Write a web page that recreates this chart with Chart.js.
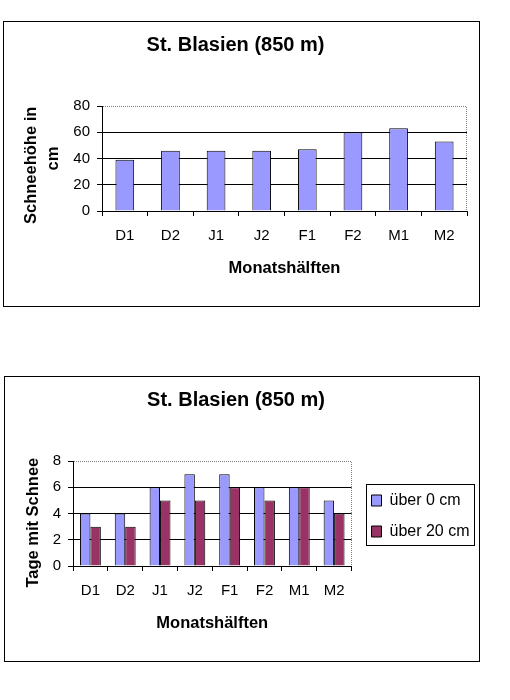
<!DOCTYPE html>
<html>
<head>
<meta charset="utf-8">
<script src="https://cdn.jsdelivr.net/npm/chart.js@4.4.1/dist/chart.umd.min.js"></script>
<style>
  body { margin: 0; background: #fff; }
  .box { position: absolute; border: 1px solid #000; box-sizing: border-box; background: #fff; }
  .box canvas { display: block; }
</style>
</head>
<body>
<div class="box" style="left:3px; top:21px; width:477px; height:286px;">
  <canvas id="chartHoehe" width="475" height="284"></canvas>
</div>
<div class="box" style="left:4px; top:376px; width:476px; height:286px;">
  <canvas id="chartTage" width="474" height="284"></canvas>
</div>
<script>
// Daten
const monatshaelften = ["D1", "D2", "J1", "J2", "F1", "F2", "M1", "M2"];
const schneehoehe = [39, 46, 46, 46, 47, 60, 63, 53];
const tageUeber0 = [4, 4, 6, 7, 7, 6, 6, 5];
const tageUeber20 = [3, 3, 5, 5, 6, 5, 6, 4];
const titel = "St. Blasien (850 m)";

const schrift = "'Liberation Sans', Arial, sans-serif";
Chart.defaults.font.family = schrift;
Chart.defaults.color = "#000";

// grauer gepunkteter Rahmen der Zeichnungsfläche (oben + rechts)
const plotRahmen = {
    id: "plotRahmen",
    afterDatasetsDraw(chart) {
        const { ctx, chartArea: a } = chart;
        const top = Math.round(a.top) + 0.5;
        const right = Math.round(a.right) - 0.5;
        ctx.save();
        ctx.strokeStyle = "#808080";
        ctx.lineWidth = 1;
        ctx.setLineDash([1, 1]);
        ctx.beginPath();
        ctx.moveTo(Math.round(a.left) + 1, top);
        ctx.lineTo(right, top);
        ctx.lineTo(right, Math.round(a.bottom));
        ctx.stroke();
        ctx.restore();
    }
};

// Legende etwas nach rechts/oben rücken, wie im Original
const legendeVerschieben = {
    id: "legendeVerschieben",
    afterLayout(chart) {
        const lg = chart.legend;
        if (!lg) return;
        lg.left += 5; lg.right += 5;
        lg.top -= 3; lg.bottom -= 3;
    }
};

// Rahmen um die Legende
const legendenRahmen = {
    id: "legendenRahmen",
    afterDraw(chart) {
        const boxes = chart.legend && chart.legend.legendHitBoxes;
        if (!boxes || !boxes.length) return;
        const l = Math.min(...boxes.map(b => b.left)) - 6;
        const r = Math.max(...boxes.map(b => b.left + b.width)) + 4;
        const t = Math.min(...boxes.map(b => b.top)) - 9;
        const btm = Math.max(...boxes.map(b => b.top + b.height)) + 5;
        const ctx = chart.ctx;
        ctx.save();
        ctx.strokeStyle = "#000";
        ctx.lineWidth = 1;
        ctx.strokeRect(Math.round(l) + 0.5, Math.round(t) + 0.5, Math.round(r - l), Math.round(btm - t));
        ctx.restore();
    }
};

function yAchse(max, step, breite, titelText, titelPad, zeilenHoehe) {
    return {
        min: 0,
        max: max,
        afterFit: s => { s.width = breite; },
        ticks: { stepSize: step, padding: 7, font: { size: 15 }, color: "#000" },
        grid: {
            color: c => (c.tick && c.tick.value === max ? "rgba(0,0,0,0)" : "#000"),
            tickColor: "#000",
            tickLength: 5,
            lineWidth: 1
        },
        border: { color: "#000", width: 1 },
        title: {
            display: true,
            text: titelText,
            font: { size: 16.5, weight: "bold", lineHeight: zeilenHoehe },
            padding: { top: titelPad, bottom: 0 },
            color: "#000"
        }
    };
}

const xAchse = {
    afterFit: s => { s.height = 95; },
    ticks: { padding: 11, font: { size: 15 }, color: "#000", maxRotation: 0, autoSkip: false },
    grid: { drawOnChartArea: false, offset: true, tickLength: 5, color: "#000", tickColor: "#000" },
    border: { color: "#000", width: 1 },
    title: {
        display: true,
        text: "Monatshälften",
        font: { size: 16.5, weight: "bold" },
        padding: { top: 0, bottom: 27.4 },
        color: "#000"
    }
};

const titelPlugin = {
    display: true,
    text: titel,
    font: { size: 20, weight: "bold" },
    padding: { top: 11, bottom: 49 },
    color: "#000"
};

new Chart(document.getElementById("chartHoehe"), {
    type: "bar",
    data: {
        labels: monatshaelften,
        datasets: [{
            label: "Schneehöhe",
            data: schneehoehe,
            backgroundColor: "#9999FF",
            borderColor: "#000",
            borderWidth: 1,
            barPercentage: 0.41,
            categoryPercentage: 1
        }]
    },
    options: {
        responsive: false,
        animation: false,
        layout: { padding: { left: 0, right: 12, top: 0, bottom: 0 } },
        plugins: {
            legend: { display: false },
            title: titelPlugin,
            tooltip: { enabled: false }
        },
        scales: {
            x: xAchse,
            y: yAchse(80, 20, 98, ["Schneehöhe in   ", "cm"], 16, 1.35)
        }
    },
    plugins: [plotRahmen]
});

new Chart(document.getElementById("chartTage"), {
    type: "bar",
    data: {
        labels: monatshaelften,
        datasets: [
            {
                label: "über 0 cm",
                data: tageUeber0,
                backgroundColor: "#9999FF",
                borderColor: "#000",
                borderWidth: 1,
                barPercentage: 1,
                categoryPercentage: 0.6
            },
            {
                label: "über 20 cm",
                data: tageUeber20,
                backgroundColor: "#993366",
                borderColor: "#000",
                borderWidth: 1,
                barPercentage: 1,
                categoryPercentage: 0.6
            }
        ]
    },
    options: {
        responsive: false,
        animation: false,
        layout: { padding: { left: 0, right: 12, top: 0, bottom: 0 } },
        plugins: {
            legend: {
                position: "right",
                labels: { boxWidth: 10, boxHeight: 11, padding: 15, font: { size: 16 }, color: "#000" }
            },
            title: titelPlugin,
            tooltip: { enabled: false }
        },
        scales: {
            x: xAchse,
            y: yAchse(8, 2, 68, "Tage mit Schnee    ", 19, 1.2)
        }
    },
    plugins: [plotRahmen, legendeVerschieben, legendenRahmen]
});
</script>
</body>
</html>
